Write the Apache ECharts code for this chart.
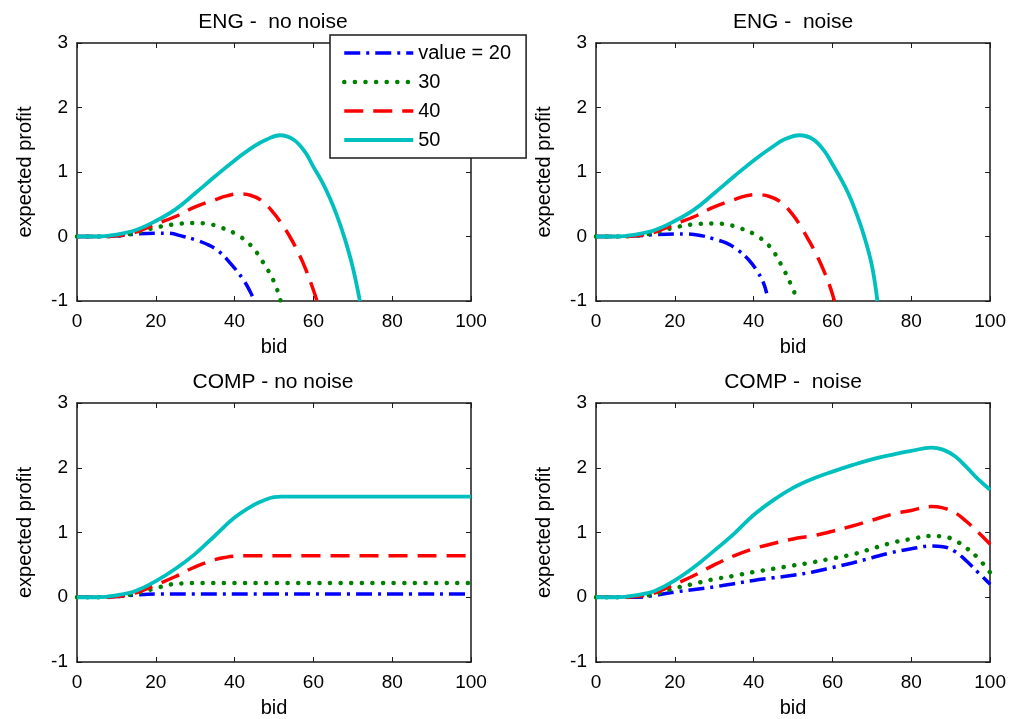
<!DOCTYPE html>
<html>
<head>
<meta charset="utf-8">
<script src="https://cdn.jsdelivr.net/npm/echarts@6/dist/echarts.min.js"></script>
<style>
html,body{margin:0;padding:0;background:#fff;}
#chart{width:1009px;height:719px;}
</style>
</head>
<body>
<div id="chart"></div>
<script>
// ---------- data ----------
const panelTitles = ['ENG -  no noise', 'ENG -  noise', 'COMP - no noise', 'COMP -  noise'];
const seriesNames = ['value = 20', '30', '40', '50'];
const xTicks = [0, 20, 40, 60, 80, 100];
const yTicks = [-1, 0, 1, 2, 3];

// ENG - no noise
const engNN_x20 = [0, 5, 10, 15, 20, 23, 27, 30, 33, 36, 39, 42, 44, 45];
const engNN_y20 = [0, 0, 0.01, 0.04, 0.05, 0.05, 0.0, -0.05, -0.12, -0.23, -0.42, -0.65, -0.86, -1.0];
const engNN_x30 = [0, 5, 10, 15, 20, 25, 30, 33, 36, 40, 44, 47, 50, 51.7];
const engNN_y30 = [0, 0, 0.01, 0.06, 0.14, 0.19, 0.21, 0.2, 0.15, 0.05, -0.13, -0.38, -0.7, -1.0];
const engNN_x40 = [0, 5, 10, 15, 20, 25, 30, 35, 38, 41, 44, 47, 50, 52, 54, 56, 58, 60, 60.9];
const engNN_y40 = [0, 0, 0.01, 0.07, 0.19, 0.31, 0.46, 0.57, 0.63, 0.66, 0.64, 0.55, 0.36, 0.19, 0.0, -0.23, -0.5, -0.83, -1.0];
const engNN_x50 = [0, 5, 10, 15, 20, 25, 30, 35, 40, 45, 48, 51.5, 55, 58, 60, 62, 64, 66, 68, 70, 71.8];
const engNN_y50 = [0, 0, 0.03, 0.1, 0.24, 0.42, 0.67, 0.93, 1.18, 1.4, 1.5, 1.57, 1.5, 1.3, 1.08, 0.87, 0.62, 0.32, -0.04, -0.48, -1.0];

// ENG - noise
const engN_x20 = [0, 5, 10, 15, 20, 23, 27, 30, 33, 36, 39, 41, 42.5, 43.3];
const engN_y20 = [0, 0, 0.01, 0.03, 0.04, 0.04, 0.01, -0.04, -0.1, -0.21, -0.38, -0.55, -0.72, -0.88];
const engN_x30 = [0, 5, 10, 15, 20, 25, 30.5, 33, 36, 40, 44, 47, 49.5, 51.2];
const engN_y30 = [0, 0, 0.01, 0.06, 0.14, 0.19, 0.2, 0.19, 0.14, 0.04, -0.15, -0.44, -0.75, -1.0];
const engN_x40 = [0, 5, 10, 15, 20, 25, 30, 35, 38, 40.7, 44, 47, 50, 52, 54, 56, 58, 59.5, 60.5];
const engN_y40 = [0, 0, 0.01, 0.07, 0.19, 0.31, 0.46, 0.57, 0.63, 0.65, 0.62, 0.53, 0.33, 0.15, -0.06, -0.29, -0.56, -0.8, -1.0];
const engN_x50 = [0, 5, 10, 15, 20, 25, 30, 35, 40, 45, 48, 51.6, 55, 58, 60, 62, 64, 66, 68, 70, 71.4];
const engN_y50 = [0, 0, 0.03, 0.1, 0.24, 0.42, 0.67, 0.93, 1.18, 1.4, 1.51, 1.57, 1.51, 1.32, 1.12, 0.91, 0.67, 0.37, 0.01, -0.45, -1.0];

// COMP - no noise
const compNN_x20 = [0, 5, 10, 15, 18, 20, 25, 100];
const compNN_y20 = [0, 0, 0.01, 0.035, 0.048, 0.05, 0.05, 0.05];
const compNN_x30 = [0, 5, 10, 15, 20, 24, 27, 30, 100];
const compNN_y30 = [0, 0, 0.01, 0.06, 0.14, 0.2, 0.215, 0.22, 0.22];
const compNN_x40 = [0, 5, 10, 15, 20, 25, 30, 35, 38, 40, 43, 100];
const compNN_y40 = [0, 0, 0.01, 0.07, 0.19, 0.32, 0.47, 0.58, 0.62, 0.635, 0.64, 0.64];
const compNN_x50 = [0, 5, 10, 15, 20, 25, 30, 35, 40, 45, 48, 50, 52, 55, 100];
const compNN_y50 = [0, 0, 0.03, 0.1, 0.25, 0.44, 0.67, 0.95, 1.23, 1.43, 1.51, 1.545, 1.555, 1.555, 1.555];

// COMP - noise
const compN_x = [0, 5, 10, 15, 20, 25, 30, 35, 40, 45, 50, 55, 60, 65, 70, 75, 80, 85, 88, 91, 94, 97, 100];
const compN_y20 = [0, 0, 0.0, 0.03, 0.08, 0.12, 0.16, 0.21, 0.26, 0.3, 0.34, 0.39, 0.46, 0.53, 0.61, 0.69, 0.75, 0.79, 0.78, 0.71, 0.56, 0.38, 0.2];
const compN_y30 = [0, 0, 0.01, 0.05, 0.14, 0.21, 0.28, 0.33, 0.39, 0.44, 0.49, 0.54, 0.6, 0.66, 0.75, 0.84, 0.9, 0.945, 0.94, 0.88, 0.76, 0.6, 0.38];
const compN_y40 = [0, 0, 0.01, 0.07, 0.2, 0.34, 0.5, 0.64, 0.75, 0.83, 0.9, 0.95, 1.02, 1.1, 1.19, 1.28, 1.34, 1.4, 1.38, 1.31, 1.17, 1.0, 0.82];
const compN_y50 = [0, 0, 0.03, 0.1, 0.26, 0.47, 0.72, 0.98, 1.27, 1.5, 1.69, 1.83, 1.94, 2.04, 2.13, 2.2, 2.26, 2.31, 2.28, 2.18, 2.01, 1.82, 1.66];

const panels = [
  [[engNN_x20, engNN_y20], [engNN_x30, engNN_y30], [engNN_x40, engNN_y40], [engNN_x50, engNN_y50]],
  [[engN_x20, engN_y20], [engN_x30, engN_y30], [engN_x40, engN_y40], [engN_x50, engN_y50]],
  [[compNN_x20, compNN_y20], [compNN_x30, compNN_y30], [compNN_x40, compNN_y40], [compNN_x50, compNN_y50]],
  [[compN_x, compN_y20], [compN_x, compN_y30], [compN_x, compN_y40], [compN_x, compN_y50]]
];

// ---------- styles ----------
const FONT = 'Liberation Sans, Arial, Helvetica, sans-serif';
const colors = ['#0000FF', '#008000', '#FF0000', '#00BFBF'];
const lineTypes = [[16, 6, 3, 6], [0.1, 10.5], [19, 10], 'solid'];
const lineCaps = ['butt', 'round', 'butt', 'butt'];
const lineWidths = [3.5, 4.5, 3.5, 3.8];

const grids = [
  {left: 77, top: 43, width: 394, height: 258},
  {left: 596, top: 43, width: 395, height: 258},
  {left: 77, top: 403, width: 394, height: 259},
  {left: 596, top: 403, width: 395, height: 259}
];
const titleCenters = [[268, 7], [788, 7], [268, 367], [788, 367]];

const axisLine = {show: true, onZero: false, lineStyle: {color: '#1a1a1a', width: 1.5}};
const tick = {show: true, inside: true, length: 5, lineStyle: {color: '#1a1a1a', width: 1}};

const xAxes = [], yAxes = [], series = [];
grids.forEach((g, i) => {
  const xCommon = {type: 'value', gridIndex: i, min: xTicks[0], max: xTicks[xTicks.length - 1], interval: 20,
    splitLine: {show: false}, axisLine: axisLine, axisTick: tick};
  const yCommon = {type: 'value', gridIndex: i, min: yTicks[0], max: yTicks[yTicks.length - 1], interval: 1,
    splitLine: {show: false}, axisLine: axisLine, axisTick: tick};
  xAxes.push(Object.assign({}, xCommon, {position: 'bottom', name: 'bid', nameLocation: 'middle', nameGap: 36,
    nameTextStyle: {fontFamily: FONT, fontSize: 20, color: '#000'},
    axisLabel: {fontFamily: FONT, fontSize: 19, color: '#000', margin: 11}}));
  xAxes.push(Object.assign({}, xCommon, {position: 'top', axisLabel: {show: false}}));
  yAxes.push(Object.assign({}, yCommon, {position: 'left', name: 'expected profit', nameLocation: 'middle', nameGap: 42,
    nameTextStyle: {fontFamily: FONT, fontSize: 20, color: '#000'},
    axisLabel: {fontFamily: FONT, fontSize: 19, color: '#000', margin: 9}}));
  yAxes.push(Object.assign({}, yCommon, {position: 'right', axisLabel: {show: false}}));
  panels[i].forEach((s, k) => {
    series.push({
      name: seriesNames[k], type: 'line', xAxisIndex: 2 * i, yAxisIndex: 2 * i,
      data: s[0].map((x, j) => [x, s[1][j]]),
      showSymbol: false, symbol: 'none', smooth: 0.4, clip: true, silent: true, animation: false,
      lineStyle: {color: colors[k], width: lineWidths[k], type: lineTypes[k], cap: lineCaps[k]},
      itemStyle: {color: colors[k]}, z: 2 + k
    });
  });
});

const option = {
  backgroundColor: '#fff',
  animation: false,
  title: panelTitles.map((t, i) => ({
    text: t, left: titleCenters[i][0], top: titleCenters[i][1], textAlign: 'center',
    textStyle: {fontFamily: FONT, fontSize: 21, fontWeight: 'normal', color: '#000'}
  })),
  legend: {
    data: seriesNames.map((n, k) => ({
      name: n,
      itemStyle: {opacity: 0},
      lineStyle: {color: colors[k], width: lineWidths[k], type: lineTypes[k], cap: lineCaps[k], opacity: 1}
    })),
    orient: 'vertical', left: 330, top: 35,
    itemWidth: 69, itemHeight: 14, itemGap: 9,
    padding: [8, 15, 8, 12],
    backgroundColor: '#fff', borderColor: '#1a1a1a', borderWidth: 1.5, borderRadius: 0,
    textStyle: {fontFamily: FONT, fontSize: 20, color: '#000', lineHeight: 20},
    selectedMode: false, z: 10
  },
  grid: grids,
  xAxis: xAxes,
  yAxis: yAxes,
  series: series
};

const chart = echarts.init(document.getElementById('chart'), null, {renderer: 'canvas'});
chart.setOption(option);
</script>
</body>
</html>
